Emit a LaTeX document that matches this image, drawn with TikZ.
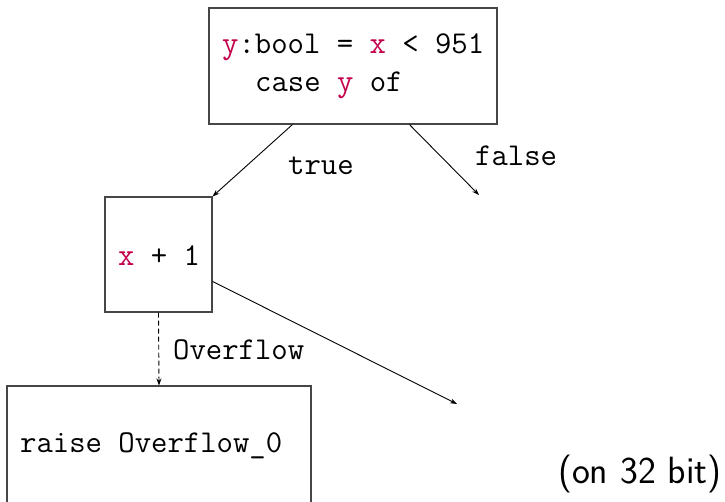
\documentclass[tikz,border=0pt]{standalone}
\usepackage{fontspec}
\usetikzlibrary{arrows.meta,calc}
\definecolor{varc}{RGB}{195,0,75}
\definecolor{boxc}{RGB}{70,70,70}
\begin{document}
\begin{tikzpicture}[x=1pt,y=-1pt,
  box/.style={draw=boxc,line width=1.1pt,inner sep=0pt,rectangle},
  code/.style={font=\fontsize{31.8}{37}\selectfont\ttfamily,anchor=base west,inner sep=0pt},
  note/.style={font=\fontsize{38}{42}\selectfont\sffamily,anchor=base west,inner sep=0pt},
  arr/.style={-{Stealth[length=7pt,width=5pt]},line width=0.9pt}]
\useasboundingbox (0,0) rectangle (725,501);
\node[box,minimum width=288pt,minimum height=116pt] (top) at (353,66) {};
\node[box,minimum width=107pt,minimum height=115pt] (inc) at (158.5,254.5) {};
\node[box,minimum width=304pt,minimum height=124pt] (raise) at (159,448) {};
\node[code] (t1) at (222,53) {\textcolor{varc}{y}:bool = \textcolor{varc}{x} < 951};
\node[code] (t2) at (255,91) {case \textcolor{varc}{y} of};
\node[code] (t3) at (118,265) {\textcolor{varc}{x} + 1};
\node[code] (t4) at (20,452) {raise Overflow\_0};
\node[code] (ltrue) at (288,174) {true};
\node[code] (lfalse) at (475,165) {false};
\node[code] (lover) at (173,359) {Overflow};
\node[note] (bits) at (558,483) {(on 32 bit)};
\coordinate (f) at (479,195);
\coordinate (o) at (457,404);
\draw[arr] ($(top.south west)+(84,0)$) -- (inc.north east);
\draw[arr] ($(top.south west)+(201,0)$) -- (f);
\draw[arr] ($(inc.north east)+(0,85)$) -- (o);
\draw[arr,dash pattern=on 5pt off 3pt] (inc.south) -- (raise.north);
\end{tikzpicture}
\end{document}
